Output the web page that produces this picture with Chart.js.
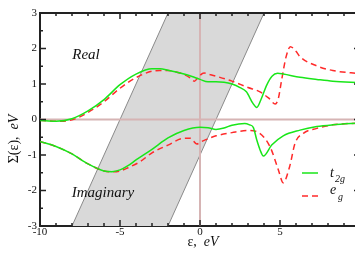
<!DOCTYPE html>
<html>
<head>
<meta charset="utf-8">
<script src="https://cdn.jsdelivr.net/npm/chart.js@4.4.0/dist/chart.umd.min.js"></script>
<style>
  body { margin: 0; background: #fff; }
  #wrap { width: 355px; height: 274px; overflow: hidden; }
  #box { width: 362px; height: 274px; }
</style>
</head>
<body>
<div id="wrap"><div id="box"><canvas id="sigma"></canvas></div></div>
<script>
// tick labels
const xTicks = [-10, -5, 0, 5, 10];
const yTicks = [-3, -2, -1, 0, 1, 2, 3];

// shaded band (corners of the parallelogram)
const bandX = [-8, -2, 4, -2];
const bandY = [-3, 3, 3, -3];

// zero reference lines
const zeroHX = [-10, 10], zeroHY = [0, 0];
const zeroVX = [0, 0], zeroVY = [-3, 3];

// Re Sigma, t2g
const reT2gX = [-10, -9, -8, -7, -6, -5, -4, -3, -2.5, -2, -1, -0.5, 0, 0.5, 1, 1.5, 2, 2.5, 2.9, 3.3, 3.55, 3.8, 4.17, 4.5, 4.85, 5.2, 6.25, 7.3, 8.3, 10];
const reT2gY = [-0.03, -0.05, 0.02, 0.24, 0.56, 0.98, 1.28, 1.43, 1.43, 1.39, 1.28, 1.21, 1.13, 1.06, 1.06, 1.05, 1.0, 0.9, 0.78, 0.46, 0.34, 0.55, 0.97, 1.22, 1.3, 1.28, 1.19, 1.13, 1.08, 1.04];

// Re Sigma, eg
const reEgX = [-10, -9, -8, -7, -6, -5, -4, -3, -2.5, -2, -1.5, -1, -0.6, -0.35, -0.1, 0.25, 0.5, 1, 2, 3, 3.75, 4.3, 4.7, 4.9, 5.1, 5.4, 5.65, 6, 6.25, 7.3, 8.3, 10];
const reEgY = [-0.02, -0.05, -0.01, 0.2, 0.5, 0.88, 1.18, 1.36, 1.38, 1.38, 1.34, 1.27, 1.17, 1.08, 1.2, 1.31, 1.28, 1.22, 1.08, 0.9, 0.78, 0.6, 0.44, 0.6, 1.11, 1.8, 2.05, 1.92, 1.77, 1.51, 1.38, 1.29];

// Im Sigma, t2g
const imT2gX = [-10, -9, -8, -7, -6, -5.5, -5, -4.5, -4, -3, -2, -1, 0, 0.5, 1, 1.5, 2, 2.8, 3.1, 3.33, 3.55, 3.75, 3.96, 4.48, 5.2, 6.25, 7.3, 8.3, 10];
const imT2gY = [-0.62, -0.76, -0.97, -1.25, -1.45, -1.47, -1.42, -1.3, -1.14, -0.84, -0.52, -0.31, -0.22, -0.23, -0.28, -0.24, -0.16, -0.11, -0.15, -0.22, -0.58, -0.85, -1.03, -0.72, -0.46, -0.3, -0.2, -0.15, -0.1];

// Im Sigma, eg
const imEgX = [-10, -9, -8, -7, -6, -5.5, -5, -4.5, -3.75, -3, -2, -1, -0.6, -0.2, 0.1, 0.4, 1, 2, 3, 3.7, 4.38, 4.9, 5.2, 5.6, 5.94, 6.46, 7.3, 8.3, 10];
const imEgY = [-0.62, -0.76, -0.97, -1.25, -1.45, -1.47, -1.45, -1.36, -1.19, -0.94, -0.72, -0.53, -0.53, -0.69, -0.62, -0.56, -0.46, -0.37, -0.31, -0.38, -0.77, -1.42, -1.78, -1.33, -0.67, -0.39, -0.25, -0.15, -0.1];

const toPts = (xs, ys) => xs.map((x, i) => ({ x: x, y: ys[i] }));

const SERIF = '"Liberation Serif", "DejaVu Serif", serif';
const green = '#19e619';
const red = '#ff2a2a';
const zeroColor = '#d6b4b4';

const framePlugin = {
  id: 'frame',
  afterDraw(chart) {
    const ctx = chart.ctx;
    const a = chart.chartArea;
    const xs = chart.scales.x, ys = chart.scales.y;
    ctx.save();
    // top border
    ctx.strokeStyle = '#222';
    ctx.lineWidth = 2;
    ctx.beginPath();
    ctx.moveTo(a.left, a.top);
    ctx.lineTo(a.right, a.top);
    ctx.stroke();
    // inward ticks
    ctx.lineWidth = 1.5;
    ctx.beginPath();
    for (let v = -10; v <= 10; v++) {
      const px = xs.getPixelForValue(v);
      const len = v % 5 === 0 ? 6 : 3;
      ctx.moveTo(px, a.bottom); ctx.lineTo(px, a.bottom - len);
      ctx.moveTo(px, a.top); ctx.lineTo(px, a.top + len);
    }
    for (let v = -3; v <= 3; v += 0.5) {
      const py = ys.getPixelForValue(v);
      const len = Number.isInteger(v) ? 6 : 3;
      ctx.moveTo(a.left, py); ctx.lineTo(a.left + len, py);
      ctx.moveTo(a.right, py); ctx.lineTo(a.right - len, py);
    }
    ctx.stroke();

    // panel labels
    ctx.fillStyle = '#111';
    ctx.font = 'italic 15px ' + SERIF;
    ctx.textAlign = 'center';
    ctx.textBaseline = 'middle';
    ctx.fillText('Real', 86, 55);
    ctx.fillText('Imaginary', 103, 193);

    // legend
    ctx.lineWidth = 1.5;
    ctx.strokeStyle = green;
    ctx.beginPath(); ctx.moveTo(302, 173); ctx.lineTo(318, 173); ctx.stroke();
    ctx.strokeStyle = red;
    ctx.setLineDash([6, 4]);
    ctx.beginPath(); ctx.moveTo(302, 196); ctx.lineTo(320, 196); ctx.stroke();
    ctx.setLineDash([]);
    ctx.textAlign = 'left';
    ctx.textBaseline = 'alphabetic';
    ctx.font = 'italic 14px ' + SERIF;
    ctx.fillText('t', 330, 177);
    ctx.fillText('e', 330, 194);
    ctx.font = 'italic 10px ' + SERIF;
    ctx.fillText('2g', 335, 182);
    ctx.fillText('g', 338, 200);

    // axis titles
    const xa = 'ε,  ';
    ctx.font = '14px ' + SERIF;
    const w1 = ctx.measureText(xa).width;
    ctx.font = 'italic 14px ' + SERIF;
    const w2 = ctx.measureText('eV').width;
    let sx = 203 - (w1 + w2) / 2;
    ctx.font = '14px ' + SERIF;
    ctx.fillText(xa, sx, 246);
    ctx.font = 'italic 14px ' + SERIF;
    ctx.fillText('eV', sx + w1, 246);

    ctx.translate(18, 139);
    ctx.rotate(-Math.PI / 2);
    const ya = 'Σ(ε),  ';
    ctx.font = '14px ' + SERIF;
    const v1 = ctx.measureText(ya).width;
    ctx.font = 'italic 14px ' + SERIF;
    const v2 = ctx.measureText('eV').width;
    sx = -(v1 + v2) / 2;
    ctx.font = '14px ' + SERIF;
    ctx.fillText(ya, sx, 0);
    ctx.font = 'italic 14px ' + SERIF;
    ctx.fillText('eV', sx + v1, 0);
    ctx.restore();
  }
};

new Chart(document.getElementById('sigma'), {
  type: 'scatter',
  data: {
    datasets: [
      { data: toPts(reT2gX, reT2gY), borderColor: green, borderWidth: 1.5, order: 0 },
      { data: toPts(imT2gX, imT2gY), borderColor: green, borderWidth: 1.5, order: 0 },
      { data: toPts(reEgX, reEgY), borderColor: red, borderWidth: 1.5, borderDash: [6, 4], order: 0 },
      { data: toPts(imEgX, imEgY), borderColor: red, borderWidth: 1.5, borderDash: [6, 4], order: 0 },
      { data: toPts(zeroHX, zeroHY), borderColor: zeroColor, borderWidth: 2, tension: 0,
        cubicInterpolationMode: 'default', order: 3 },
      { data: toPts(zeroVX, zeroVY), borderColor: zeroColor, borderWidth: 2, tension: 0,
        cubicInterpolationMode: 'default', order: 3 },
      { data: toPts(bandX, bandY), borderColor: '#8a8a8a', borderWidth: 1, backgroundColor: '#d9d9d9',
        fill: 'shape', tension: 0, cubicInterpolationMode: 'default', order: 5 }
    ]
  },
  options: {
    responsive: true,
    maintainAspectRatio: false,
    animation: false,
    showLine: true,
    layout: { padding: { top: 13, right: 2, left: 0, bottom: 0 } },
    elements: {
      point: { radius: 0 },
      line: { cubicInterpolationMode: 'monotone', fill: false }
    },
    plugins: { legend: { display: false }, tooltip: { enabled: false } },
    scales: {
      x: {
        type: 'linear', min: -10, max: 10,
        afterFit: (s) => { s.height = 48; },
        afterBuildTicks: (s) => { s.ticks = xTicks.map(v => ({ value: v })); },
        ticks: { font: { family: SERIF, size: 11 }, color: '#111', padding: 0, maxRotation: 0,
                 callback: (v) => (v === 10 ? '' : String(v)) },
        grid: { display: false, drawTicks: false },
        border: { color: '#222', width: 2 }
      },
      y: {
        type: 'linear', min: -3, max: 3,
        afterFit: (s) => { s.width = 40; },
        afterBuildTicks: (s) => { s.ticks = yTicks.map(v => ({ value: v })); },
        ticks: { font: { family: SERIF, size: 11 }, color: '#111', padding: 3 },
        grid: { display: false, drawTicks: false },
        border: { color: '#222', width: 2 }
      }
    }
  },
  plugins: [framePlugin]
});
</script>
</body>
</html>
